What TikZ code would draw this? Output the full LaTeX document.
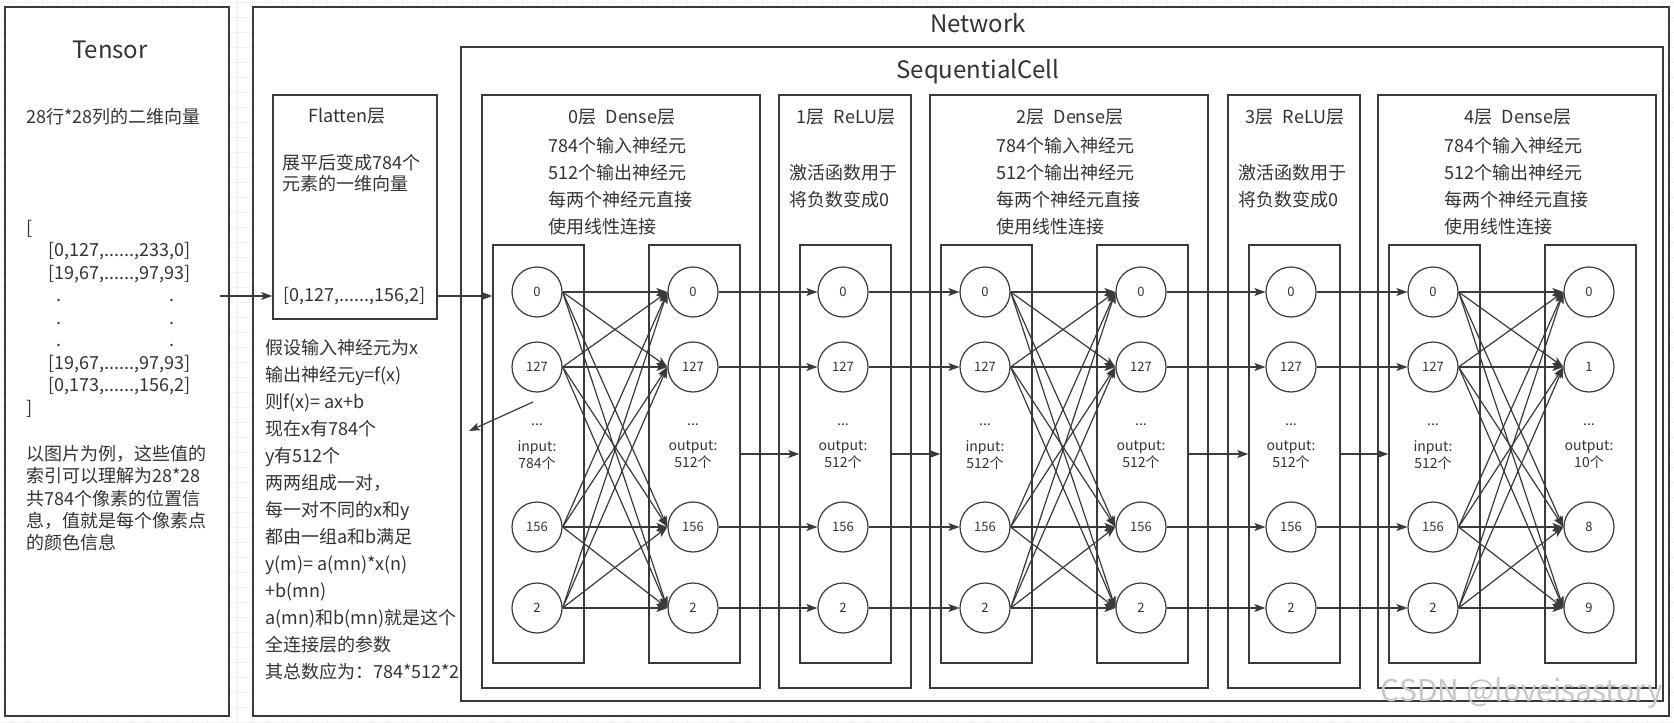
\documentclass[tikz,border=0pt]{standalone}
\usepackage{fontspec}
\setmainfont{Noto Sans CJK SC}
\usetikzlibrary{arrows.meta}
\definecolor{linha}{HTML}{3A3A3A}
\definecolor{letra}{HTML}{333333}
\definecolor{grelha}{HTML}{F0F0F0}
\begin{document}
\begin{tikzpicture}[
            x=1pt, y=-1pt,
            bloco/.style={shape=rectangle, draw=linha, line width=1.5pt, fill=white, inner sep=0pt},
            neuronio/.style={shape=circle, draw=linha, line width=1.2pt, fill=white, minimum size=50, inner sep=0pt, text=letra, font=\fontsize{13}{15}\selectfont},
            seta/.style={draw=linha, line width=1.2pt, -{Stealth[length=11pt, width=8pt, inset=2.5pt]}},
            titulo/.style={inner sep=0pt, text=letra, font=\fontsize{24}{28}\selectfont},
            cabeca/.style={inner sep=0pt, text=letra, font=\fontsize{18}{22}\selectfont},
            texto/.style={anchor=north west, align=left, inner sep=0pt, text=letra, font=\fontsize{18}{27}\selectfont},
            rotulo/.style={align=center, inner sep=0pt, text=letra, font=\fontsize{14}{17}\selectfont},
            grade/.style={draw=grelha, line width=1pt},
        ]
        \useasboundingbox (0,0) rectangle (1674,723);
        \fill[white] (0,0) rectangle (1674,723);
        \foreach \gx in {12,27,...,1670} \draw[grade] (\gx,0) -- (\gx,723);
        \foreach \gy in {2,17,...,722} \draw[grade] (0,\gy) -- (1674,\gy);

        % caixas exteriores
        \node[bloco, minimum width=224, minimum height=709] (tensor) at (117,361.5) {};
        \node[bloco, minimum width=1416, minimum height=709] (network) at (961,361.5) {};
        \node[bloco, minimum width=1202, minimum height=654] (seq) at (1062,374) {};
        \node[bloco, minimum width=164, minimum height=224] (flatten) at (355,207) {};

        % camadas
        \node[bloco, minimum width=278, minimum height=593] (d0) at (621,391.5) {};
        \node[bloco, minimum width=132, minimum height=593] (r1) at (845,391.5) {};
        \node[bloco, minimum width=278, minimum height=593] (d2) at (1069,391.5) {};
        \node[bloco, minimum width=132, minimum height=593] (r3) at (1294,391.5) {};
        \node[bloco, minimum width=278, minimum height=593] (d4) at (1517,391.5) {};

        % colunas
        \node[bloco, minimum width=91, minimum height=418] (d0in) at (538.5,454) {};
        \node[bloco, minimum width=91, minimum height=418] (d0out) at (694.5,454) {};
        \node[bloco, minimum width=91, minimum height=418] (r1col) at (845.5,454) {};
        \node[bloco, minimum width=91, minimum height=418] (d2in) at (986.5,454) {};
        \node[bloco, minimum width=91, minimum height=418] (d2out) at (1142.5,454) {};
        \node[bloco, minimum width=91, minimum height=418] (r3col) at (1294.5,454) {};
        \node[bloco, minimum width=91, minimum height=418] (d4in) at (1434.5,454) {};
        \node[bloco, minimum width=91, minimum height=418] (d4out) at (1590.5,454) {};

        % textos
        \node[titulo] (ttensor) at (110,50) {Tensor};
        \node[titulo] (tnetwork) at (978,23) {Network};
        \node[titulo] (tseq) at (978,72) {SequentialCell};
        \node[texto] (tdim) at (26,108) {28行*28列的二维向量};
        \node[texto, font=\fontsize{18}{22.5}\selectfont] (tmatriz) at (26,220) {[\\
            \hspace*{22pt}[0,127,......,233,0]\\
            \hspace*{22pt}[19,67,......,97,93]\\
            \hspace*{30pt}.\hspace*{108pt}.\\
            \hspace*{30pt}.\hspace*{108pt}.\\
            \hspace*{30pt}.\hspace*{108pt}.\\
            \hspace*{22pt}[19,67,......,97,93]\\
            \hspace*{22pt}[0,173,......,156,2]\\
            ]};
        \node[texto, font=\fontsize{18}{22.3}\selectfont] (tindice) at (26,445) {以图片为例，这些值的\\索引可以理解为28*28\\共784个像素的位置信\\息，值就是每个像素点\\的颜色信息};
        \node[cabeca] (tflatten) at (347,116) {Flatten层};
        \node[texto, font=\fontsize{18}{21}\selectfont] (tplano) at (282,154) {展平后变成784个\\元素的一维向量};
        \node[cabeca, anchor=west] (fvetor) at (283,296) {[0,127,......,156,2]};
        \node[texto] (tlinear) at (265,339) {假设输入神经元为x\\输出神经元y=f(x)\\则f(x)= ax+b\\现在x有784个\\y有512个\\两两组成一对，\\每一对不同的x和y\\都由一组a和b满足\\y(m)= a(mn)*x(n)\\+b(mn)\\a(mn)和b(mn)就是这个\\全连接层的参数\\其总数应为：784*512*2};

        \node[cabeca] (d0tit) at (622,117) {0层\hspace{9pt}Dense层};
        \node[texto] (d0txt) at (548,137) {784个输入神经元\\512个输出神经元\\每两个神经元直接\\使用线性连接};
        \node[cabeca] (r1tit) at (846,117) {1层\hspace{9pt}ReLU层};
        \node[texto] (r1txt) at (789,164) {激活函数用于\\将负数变成0};
        \node[cabeca] (d2tit) at (1070,117) {2层\hspace{9pt}Dense层};
        \node[texto] (d2txt) at (996,137) {784个输入神经元\\512个输出神经元\\每两个神经元直接\\使用线性连接};
        \node[cabeca] (r3tit) at (1295,117) {3层\hspace{9pt}ReLU层};
        \node[texto] (r3txt) at (1238,164) {激活函数用于\\将负数变成0};
        \node[cabeca] (d4tit) at (1518,117) {4层\hspace{9pt}Dense层};
        \node[texto] (d4txt) at (1444,137) {784个输入神经元\\512个输出神经元\\每两个神经元直接\\使用线性连接};

        % rotulos das colunas
        \node[rotulo] (d0idot) at (537,425) {...};
        \node[rotulo] (d0ilab) at (537,455) {input:\\784个};
        \node[rotulo] (d0odot) at (693,425) {...};
        \node[rotulo] (d0olab) at (693,455) {output:\\512个};
        \node[rotulo] (r1dot) at (843,425) {...};
        \node[rotulo] (r1lab) at (843,455) {output:\\512个};
        \node[rotulo] (d2idot) at (985,425) {...};
        \node[rotulo] (d2ilab) at (985,455) {input:\\512个};
        \node[rotulo] (d2odot) at (1141,425) {...};
        \node[rotulo] (d2olab) at (1141,455) {output:\\512个};
        \node[rotulo] (r3dot) at (1291,425) {...};
        \node[rotulo] (r3lab) at (1291,455) {output:\\512个};
        \node[rotulo] (d4idot) at (1433,425) {...};
        \node[rotulo] (d4ilab) at (1433,455) {input:\\512个};
        \node[rotulo] (d4odot) at (1589,425) {...};
        \node[rotulo] (d4olab) at (1589,455) {output:\\10个};

        % neuronios
        \node[neuronio] (d0i1) at (537,292) {0};
        \node[neuronio] (d0i2) at (537,367) {127};
        \node[neuronio] (d0i3) at (537,527) {156};
        \node[neuronio] (d0i4) at (537,608) {2};
        \node[neuronio] (d0o1) at (693,292) {0};
        \node[neuronio] (d0o2) at (693,367) {127};
        \node[neuronio] (d0o3) at (693,527) {156};
        \node[neuronio] (d0o4) at (693,608) {2};
        \node[neuronio] (r1n1) at (843,292) {0};
        \node[neuronio] (r1n2) at (843,367) {127};
        \node[neuronio] (r1n3) at (843,527) {156};
        \node[neuronio] (r1n4) at (843,608) {2};
        \node[neuronio] (d2i1) at (985,292) {0};
        \node[neuronio] (d2i2) at (985,367) {127};
        \node[neuronio] (d2i3) at (985,527) {156};
        \node[neuronio] (d2i4) at (985,608) {2};
        \node[neuronio] (d2o1) at (1141,292) {0};
        \node[neuronio] (d2o2) at (1141,367) {127};
        \node[neuronio] (d2o3) at (1141,527) {156};
        \node[neuronio] (d2o4) at (1141,608) {2};
        \node[neuronio] (r3n1) at (1291,292) {0};
        \node[neuronio] (r3n2) at (1291,367) {127};
        \node[neuronio] (r3n3) at (1291,527) {156};
        \node[neuronio] (r3n4) at (1291,608) {2};
        \node[neuronio] (d4i1) at (1433,292) {0};
        \node[neuronio] (d4i2) at (1433,367) {127};
        \node[neuronio] (d4i3) at (1433,527) {156};
        \node[neuronio] (d4i4) at (1433,608) {2};
        \node[neuronio] (d4o1) at (1589,292) {0};
        \node[neuronio] (d4o2) at (1589,367) {1};
        \node[neuronio] (d4o3) at (1589,527) {8};
        \node[neuronio] (d4o4) at (1589,608) {9};

        % ligacoes
        \coordinate (tsaida) at (220,296);
        \draw[seta] (tsaida) -- (flatten.west |- tsaida);
        \draw[seta] (flatten.east |- fvetor) -- (d0in.west |- fvetor);
        \draw[seta] (d0out.east) -- (r1col.west);
        \draw[seta] (r1col.east) -- (d2in.west);
        \draw[seta] (d2out.east) -- (r3col.west);
        \draw[seta] (r3col.east) -- (d4in.west);
        \foreach \cam in {0,2,4}
            \foreach \ent in {1,...,4}
                \foreach \sai in {1,...,4}
                    \draw[seta] (d\cam i\ent.east) -- (d\cam o\sai.west);
        \foreach \n in {1,...,4} {
            \draw[seta] (d0o\n.east) -- (r1n\n.west);
            \draw[seta] (r1n\n.east) -- (d2i\n.west);
            \draw[seta] (d2o\n.east) -- (r3n\n.west);
            \draw[seta] (r3n\n.east) -- (d4i\n.west);
        }
        \coordinate (pa) at (533,402);
        \coordinate (pb) at (469,431);
        \draw[seta] (pa) -- (pb);

        \node[inner sep=0pt, text=black!22, font=\fontsize{30}{34}\selectfont] (marca) at (1522,693) {CSDN @loveisastory};
    \end{tikzpicture}
\end{document}
